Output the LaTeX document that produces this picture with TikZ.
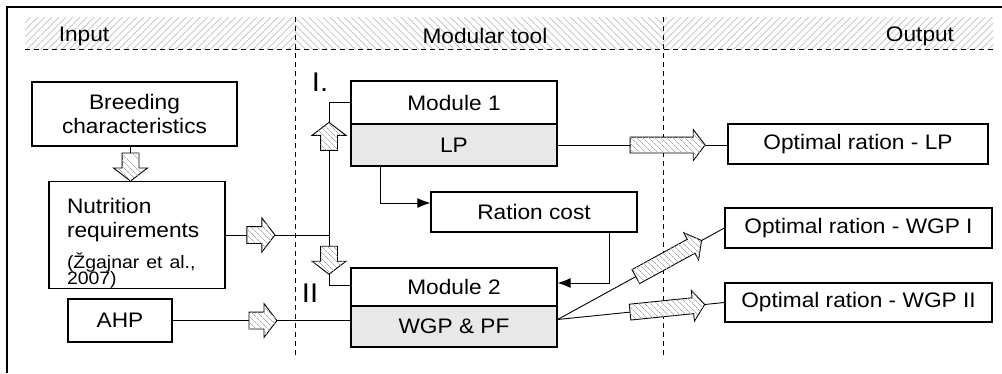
\documentclass[tikz,border=0pt]{standalone}
\usepackage{fontspec}
\setmainfont[FakeStretch=1.08]{Liberation Sans}
\usetikzlibrary{shapes.arrows,patterns.meta,arrows.meta}
\newcommand{\mainsize}{\fontsize{21}{24}\selectfont}
\newcommand{\refsize}{\fontsize{18}{13}\selectfont}

\begin{document}
\begin{tikzpicture}[x=1pt, y=-1pt,
  box/.style={draw, line width=1.3, inner sep=0, font=\mainsize, align=center},
  shaded/.style={box, fill=gray!18},
  conn/.style={line width=0.9},
  blockarrow/.style={single arrow, draw, line width=0.9, fill=white,
    postaction={pattern={Lines[angle=-45, distance=4pt, line width=0.7pt]}, pattern color=gray!65},
    inner xsep=0, inner ysep=8, single arrow head extend=8.5,
    single arrow tip angle=105, minimum height=28},
  longarrow/.style={blockarrow, inner ysep=7.5, single arrow head extend=7.5, minimum height=75},
  hatchright/.style={pattern={Lines[angle=45, distance=5pt, line width=0.7pt]}, pattern color=gray!50},
  hatchleft/.style={pattern={Lines[angle=-45, distance=5pt, line width=0.7pt]}, pattern color=gray!50},
  divider/.style={line width=1, dash pattern=on 5pt off 4pt},
  headtext/.style={font=\mainsize},
  modtext/.style={font=\fontsize{27}{27}\selectfont}]

\useasboundingbox (0,0) rectangle (1002,373);

% Frame and header band
\draw[line width=1.2] (7,373) -- (7,7) -- (1002,7);
\fill[hatchright] (25,17) rectangle (295,49);
\fill[hatchleft] (295,17) rectangle (663,49);
\fill[hatchright] (663,17) rectangle (993,49);
\draw[divider] (25,49) -- (993,49);
\draw[divider] (295,17) -- (295,357);
\draw[divider] (663,17) -- (663,357);

\node[headtext] (input) at (84,36) {Input};
\node[headtext] (tool) at (485,36) {Modular tool};
\node[headtext] (output) at (920,36) {Output};

% Input
\node[box, minimum width=205, minimum height=64] (breed) at (134.5,114) {Breeding\\characteristics};
\node[box, minimum width=176, minimum height=94, align=left, text width=140] (nutri) at (137,235)
    {\rule{0pt}{32pt}Nutrition\\requirements\\[10pt]\refsize (Žgajnar et al.,\\[-8pt]\refsize 2007)};
\node[box, minimum width=104, minimum height=43] (ahp) at (120,320.5) {AHP};

% Modular tool
\node[box, minimum width=206, minimum height=43] (mod1) at (454,102.5) {Module 1};
\node[shaded, minimum width=206, minimum height=42] (lp) at (454,145) {LP};
\node[box, minimum width=206, minimum height=40] (cost) at (534,212) {Ration cost};
\node[box, minimum width=206, minimum height=38] (mod2) at (454,287) {Module 2};
\node[shaded, minimum width=206, minimum height=41] (wgp) at (454,326.5) {WGP \& PF};

\node[modtext] (one) at (320,82) {I.};
\node[modtext] (two) at (310,293) {II};

% Output
\node[box, minimum width=260, minimum height=40] (optlp) at (858,144) {Optimal ration - LP};
\node[box, minimum width=267, minimum height=40] (optw1) at (858.5,228) {Optimal ration - WGP I};
\node[box, minimum width=267, minimum height=39] (optw2) at (858.5,302.5) {Optimal ration - WGP II};

% Connectors on the input side
\coordinate (split) at (329,235);
\draw[conn] ([xshift=-4]breed.south) -- node[blockarrow, sloped, allow upside down, pos=0.5] (a1) {}
    ([xshift=-4]breed.south |- nutri.north);
\draw[conn] (nutri.east) -- node[blockarrow, pos=0.31] (a2) {} (split);
\draw[conn] (split) |- node[blockarrow, sloped, pos=0.36] (a3) {} (mod1.west);
\draw[conn] (split) |- node[blockarrow, sloped, allow upside down, pos=0.22] (a4) {} ([yshift=2]mod2.west);
\draw[conn] (ahp.east) -- node[blockarrow, pos=0.49] (a5) {} (ahp.east -| wgp.west);

% Ration cost loop
\draw[conn, -{Latex[length=13,width=10]}] ([xshift=-74]lp.south) |- ([yshift=9]cost.west);
\draw[conn, -{Latex[length=13,width=10]}] ([xshift=75]cost.south) |- ([yshift=4]mod2.east);

% Connectors to the output
\coordinate (wout) at ([yshift=7]wgp.east);
\draw[conn] (lp.east) -- node[longarrow, pos=0.63] (a6) {} (lp.east -| optlp.west);
\draw[conn] (wout) -- node[longarrow, sloped, pos=0.65] (a7) {} (optw1.west);
\draw[conn] (wout) -- node[longarrow, sloped, pos=0.64] (a8) {} (optw2.west);

\end{tikzpicture}
\end{document}
